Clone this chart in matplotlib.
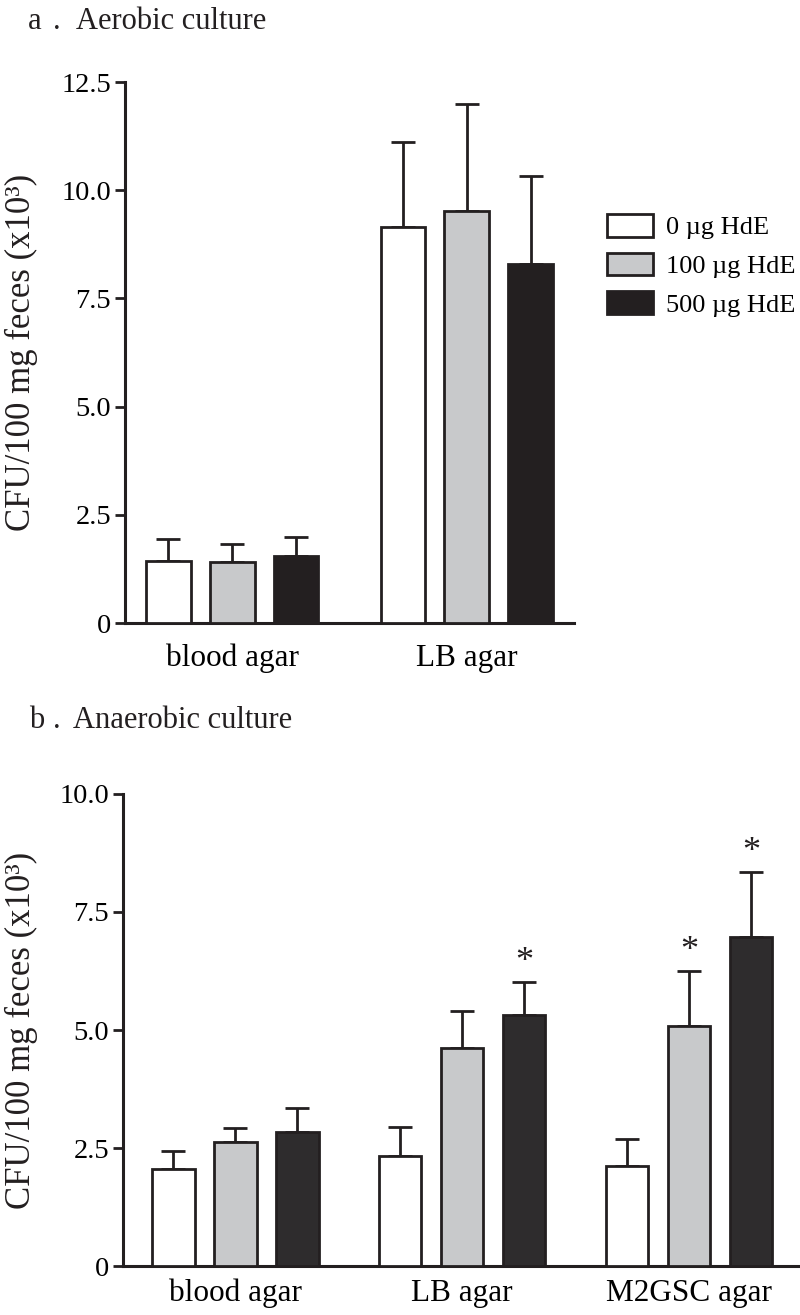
import matplotlib
matplotlib.use("Agg")
import matplotlib.pyplot as plt
import numpy as np

plt.rcParams['font.family'] = ['Liberation Serif', 'DejaVu Serif']

# data (CFU/100 mg feces, x10^3)
doses = ['0 \u00b5g HdE', '100 \u00b5g HdE', '500 \u00b5g HdE']

groups_a = ['blood agar', 'LB agar']
a_mean = [[1.43, 9.15],   # 0 ug
          [1.41, 9.51],   # 100 ug
          [1.55, 8.29]]   # 500 ug
a_err = [[0.51, 1.96],
         [0.41, 2.48],
         [0.44, 2.03]]

groups_b = ['blood agar', 'LB agar', 'M2GSC agar']
b_mean = [[2.06, 2.33, 2.12],
          [2.63, 4.62, 5.08],
          [2.84, 5.32, 6.97]]
b_err = [[0.38, 0.61, 0.57],
         [0.29, 0.78, 1.17],
         [0.51, 0.70, 1.38]]
# significance stars: (dose index, group index)
b_stars = [(2, 1), (1, 2), (2, 2)]

a_ticks = [0, 2.5, 5.0, 7.5, 10.0, 12.5]
a_ticklabels = ['0', '2.5', '5.0', '7.5', '10.0', '12.5']
b_ticks = [0, 2.5, 5.0, 7.5, 10.0]
b_ticklabels = ['0', '2.5', '5.0', '7.5', '10.0']

ink = '#231f20'
face_a = ['white', '#c8c9cb', '#231f20']
face_b = ['white', '#c8c9cb', '#2e2c2d']
gstep = 3.66
width = 0.69
ylab = 'CFU/100 mg feces (x10\u00b3)'

W, H = 800, 1315
fig = plt.figure(figsize=(8, 13.15), dpi=100)


def px_axes(l, t, r, b):
    return fig.add_axes([l / W, 1 - b / H, (r - l) / W, (b - t) / H])


def draw(ax, groups, means, errs, faces, ylim, ticks, labels, xlim, xpad):
    ng = len(groups)
    for j in range(3):
        x = np.arange(ng) * gstep + j
        ax.bar(x, means[j], width, color=faces[j], edgecolor=ink,
               linewidth=2.0, zorder=3, label=doses[j])
        ax.errorbar(x, means[j], yerr=[np.zeros(ng), errs[j]], fmt='none',
                    ecolor=ink, elinewidth=2.0, capsize=8.6, capthick=2.0,
                    zorder=2)
    ax.set_xlim(*xlim)
    ax.set_ylim(*ylim)
    ax.set_yticks(ticks)
    ax.set_yticklabels(labels, fontsize=20.5)
    ax.set_xticks(np.arange(ng) * gstep + 1)
    ax.set_xticklabels(groups, fontsize=22.5)
    ax.tick_params(axis='x', length=0, pad=xpad)
    ax.tick_params(axis='y', length=7, width=2.0, color=ink, pad=3)
    for s in ['top', 'right']:
        ax.spines[s].set_visible(False)
    for s in ['left', 'bottom']:
        ax.spines[s].set_linewidth(2.2)
        ax.spines[s].set_color(ink)


def panel_title(letter, title, x0, xa, base):
    kw = dict(fontsize=22, va='baseline', ha='left', color=ink)
    fig.text(x0 / W, 1 - base / H, letter, **kw)
    fig.text(53 / W, 1 - base / H, '.', **kw)
    fig.text(xa / W, 1 - base / H, title, **kw)


# panel a
ax1 = px_axes(125, 82, 574, 623)
draw(ax1, groups_a, a_mean, a_err, face_a, (0, 12.5), a_ticks, a_ticklabels,
     (-0.68, 6.34), 15)
panel_title('a', 'Aerobic culture', 28, 76, 29)
fig.text(21 / W, 1 - 352 / H, ylab, rotation=90, fontsize=25,
         ha='center', va='center', color=ink)
ax1.legend(loc='upper left', bbox_to_anchor=(607 / W, 1 - 214 / H),
           bbox_transform=fig.transFigure, frameon=False, fontsize=19,
           handlelength=1.75, handleheight=0.95, handletextpad=0.5,
           labelspacing=0.5, borderpad=0, borderaxespad=0)

# panel b
ax2 = px_axes(123, 794, 798, 1266)
draw(ax2, groups_b, b_mean, b_err, face_b, (0, 10.0), b_ticks, b_ticklabels,
     (-0.81, 10.08), 9)
for j, g in b_stars:
    x = g * gstep + j
    ax2.annotate('*', (x, b_mean[j][g] + b_err[j][g]), xytext=(0, 2),
                 textcoords='offset points', ha='center', va='bottom',
                 fontsize=26, color=ink)
panel_title('b', 'Anaerobic culture', 29, 73, 728)
fig.text(21 / W, 1 - 1030 / H, ylab, rotation=90, fontsize=25,
         ha='center', va='center', color=ink)

fig.savefig('out.png', dpi=100, facecolor='white')
